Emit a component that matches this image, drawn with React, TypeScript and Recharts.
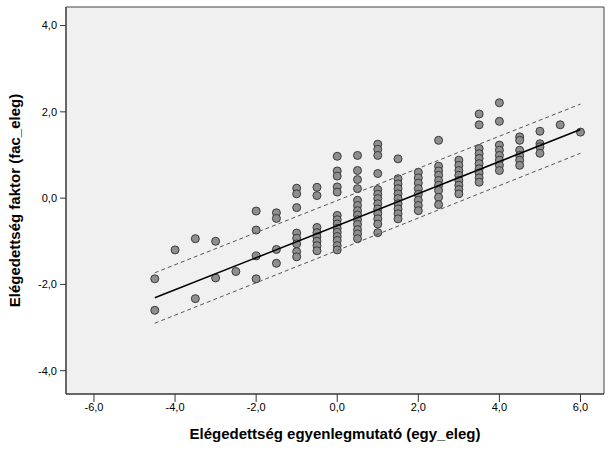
import {
  CartesianGrid,
  ReferenceArea,
  Scatter,
  ScatterChart,
  XAxis,
  YAxis,
} from 'recharts'

// egy_eleg values (one column of points per value)
const colX = [
  -4.5, -4, -3.5, -3, -2.5, -2, -1.5, -1, -0.5, 0, 0.5, 1, 1.5, 2, 2.5, 3, 3.5,
  4, 4.5, 5, 5.5, 6,
]

// fac_eleg values read per column
const colY = [
  [-1.87, -2.6],
  [-1.2],
  [-0.94, -2.33],
  [-1.0, -1.85],
  [-1.7],
  [-0.3, -0.74, -1.34, -1.87],
  [-0.34, -0.47, -1.19, -1.51],
  [0.23, 0.1, -0.22, -0.81, -0.93, -1.06, -1.24, -1.36],
  [0.25, 0.06, -0.68, -0.8, -0.9, -1.0, -1.1, -1.22],
  [0.97, 0.63, 0.51, 0.26, 0.14, -0.4, -0.5, -0.6, -0.7, -0.79, -0.89, -0.98, -1.1, -1.2],
  [0.99, 0.64, 0.43, 0.22, -0.05, -0.17, -0.29, -0.39, -0.5, -0.61, -0.73, -0.83, -0.94],
  [1.25, 1.13, 0.99, 0.57, 0.2, 0.09, -0.01, -0.13, -0.25, -0.36, -0.48, -0.6, -0.8],
  [0.91, 0.45, 0.33, 0.22, 0.1, -0.01, -0.13, -0.25, -0.36, -0.48],
  [0.6, 0.47, 0.35, 0.22, 0.09, -0.05, -0.17, -0.29],
  [1.34, 0.74, 0.63, 0.53, 0.41, 0.3, 0.18, 0.02, -0.15],
  [0.88, 0.76, 0.64, 0.53, 0.41, 0.3, 0.2, 0.1],
  [1.95, 1.7, 1.15, 1.03, 0.92, 0.8, 0.68, 0.58, 0.47, 0.37],
  [2.21, 1.78, 1.23, 1.11, 0.99, 0.88, 0.76, 0.64],
  [1.42, 1.34, 1.11, 0.99, 0.88, 0.76],
  [1.55, 1.26, 1.19, 1.04],
  [1.7],
  [1.53],
]

// regression line and prediction bounds, at the ends of the data range
const fitX = [-4.5, 6]
const fitY = [-2.31, 1.59]
const upperY = [-1.73, 2.18]
const lowerY = [-2.9, 1.04]

const xTicks = [-6, -4, -2, 0, 2, 4, 6]
const yTicks = [-4, -2, 0, 2, 4]
const xDomain = [-6.69, 6.58]
const yDomain = [-4.54, 4.43]

const points = colX.flatMap((x, i) => colY[i].map((y) => ({ x, y })))
const fitData = fitX.map((x, i) => ({ x, y: fitY[i] }))
const upperData = fitX.map((x, i) => ({ x, y: upperY[i] }))
const lowerData = fitX.map((x, i) => ({ x, y: lowerY[i] }))

const fmt = (v: number) => v.toFixed(1).replace('.', ',')
const font = '"Liberation Sans", Arial, sans-serif'
const tickStyle = { fill: '#000', fontSize: 11, fontFamily: font }
const titleStyle = {
  fill: '#000',
  fontSize: 15,
  fontWeight: 'bold',
  fontFamily: font,
  textAnchor: 'middle',
} as const

const Dot = (props: any) => (
  <circle
    cx={props.cx}
    cy={props.cy}
    r={4}
    fill="#8E8E8E"
    stroke="#3A3A3A"
    strokeWidth={1}
  />
)
const NoDot = () => <g />

export default function App() {
  return (
    <div style={{ position: 'absolute', left: 0, top: 0, background: '#fff' }}>
      <ScatterChart
        width={611}
        height={450}
        margin={{ top: 7, right: 7, left: 0, bottom: 0 }}
      >
        <CartesianGrid
          fill="#F0F0F0"
          horizontal={false}
          vertical={false}
        />
        <XAxis
          type="number"
          dataKey="x"
          domain={xDomain}
          ticks={xTicks}
          tickFormatter={fmt}
          allowDataOverflow
          height={56}
          tickSize={8}
          tickMargin={1}
          tick={tickStyle}
          stroke="#333"
          label={{
            value: 'Elégedettség egyenlegmutató (egy_eleg)',
            position: 'insideBottom',
            offset: 11,
            style: titleStyle,
          }}
        />
        <YAxis
          type="number"
          dataKey="y"
          domain={yDomain}
          ticks={yTicks}
          tickFormatter={fmt}
          allowDataOverflow
          width={66}
          tickSize={6}
          tickMargin={3}
          tick={tickStyle}
          stroke="#333"
          label={{
            value: 'Elégedettség faktor (fac_eleg)',
            angle: -90,
            position: 'insideLeft',
            offset: 15,
            style: titleStyle,
          }}
        />
        <ReferenceArea
          x1={xDomain[0]}
          x2={xDomain[1]}
          y1={yDomain[0]}
          y2={yDomain[1]}
          fill="none"
          fillOpacity={0}
          stroke="#444"
          strokeWidth={1}
        />
        <Scatter
          data={points}
          shape={Dot}
          isAnimationActive={false}
        />
        <Scatter
          data={upperData}
          line={{ stroke: '#555', strokeWidth: 1, strokeDasharray: '4 3' }}
          shape={NoDot}
          isAnimationActive={false}
        />
        <Scatter
          data={lowerData}
          line={{ stroke: '#555', strokeWidth: 1, strokeDasharray: '4 3' }}
          shape={NoDot}
          isAnimationActive={false}
        />
        <Scatter
          data={fitData}
          line={{ stroke: '#000', strokeWidth: 1.5 }}
          shape={NoDot}
          isAnimationActive={false}
        />
      </ScatterChart>
    </div>
  )
}
